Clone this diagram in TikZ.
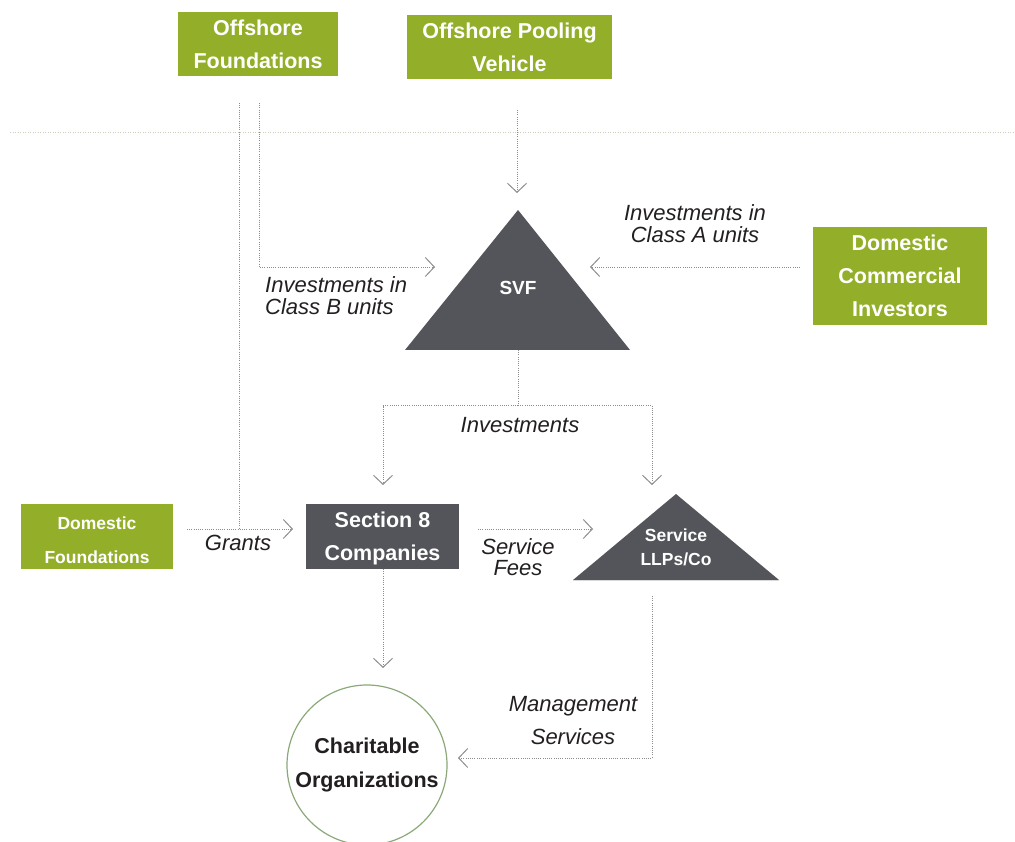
\documentclass[tikz,border=0pt]{standalone}
\usepackage{fontspec}
\setmainfont{Liberation Sans}
\usetikzlibrary{arrows.meta}
\definecolor{olive}{RGB}{147,175,42}
\definecolor{slate}{RGB}{84,85,90}
\definecolor{ringc}{RGB}{139,168,120}
\definecolor{dotc}{RGB}{140,140,140}
\definecolor{sepc}{RGB}{200,208,192}
\definecolor{txt}{RGB}{35,31,32}
\tikzset{
  gbox/.style={rectangle, fill=olive, text=white, align=center, inner sep=0pt,
    font=\fontsize{21.5}{33}\selectfont\bfseries},
  dbox/.style={rectangle, fill=slate, text=white, align=center, inner sep=0pt,
    font=\fontsize{21.5}{33}\selectfont\bfseries},
  tri/.style={fill=slate},
  lbl/.style={text=txt, inner sep=0pt, font=\fontsize{22}{22}\selectfont\itshape},
  link/.style={draw=dotc, line width=0.9pt, dash pattern=on 0.9pt off 1.3pt},
  flow/.style={link, -{Straight Barb[length=9pt,width=19pt,line width=1pt]}},
}
\begin{document}
\begin{tikzpicture}[x=1pt,y=-1pt]
\useasboundingbox (0,0) rectangle (1015,842);
\clip (0,0) rectangle (1015,842);

% separator
\coordinate (sepL) at (10,133);
\coordinate (sepR) at (1015,133);
\draw[draw=sepc, line width=1pt, dash pattern=on 1pt off 1.5pt] (sepL) -- (sepR);

% boxes
\node[gbox, minimum width=160pt, minimum height=64pt] (ofound) at (258,44) {Offshore\\Foundations};
\node[gbox, minimum width=205pt, minimum height=64pt] (opv) at (509.5,47) {Offshore Pooling\\Vehicle};
\node[gbox, minimum width=174pt, minimum height=98pt] (dci) at (900,276) {Domestic\\Commercial\\Investors};
\node[gbox, minimum width=152pt, minimum height=65pt, font=\fontsize{17.5}{34}\selectfont\bfseries] (dfound) at (97,536.5) {\rule{0pt}{20.8pt}Domestic\\Foundations};
\node[dbox, minimum width=153pt, minimum height=65pt] (sec8) at (382.5,536.5) {\rule{0pt}{19.7pt}Section 8\\Companies};

% SVF triangle
\fill[tri] (518,210) -- (630,350) -- (405,350) -- cycle;
\node[text=white, font=\fontsize{19}{22}\selectfont\bfseries] (svf) at (518,288) {SVF};

% Service LLPs triangle
\fill[tri] (676,494) -- (779,580) -- (573,580) -- cycle;
\draw[draw=black!15, line width=0.8pt] (573,580.5) -- (779,580.5);
\node[text=white, align=center, font=\fontsize{17.5}{24}\selectfont\bfseries] (llp) at (676,547) {Service\\LLPs/Co};

% Charitable organizations
\node[circle, draw=ringc, line width=1.2pt, minimum size=160pt, inner sep=0pt, align=center,
  text=txt, font=\fontsize{21.5}{34}\selectfont\bfseries] (char) at (367,765) {Charitable\\Organizations};

% connector coordinates
\coordinate (ofA) at (239,103);
\coordinate (ofB) at (259,103);
\coordinate (gj) at (239,529);
\coordinate (svfL) at (435,267);
\coordinate (opvS) at (517,110);
\coordinate (svfT) at (517,193);
\coordinate (dciW) at (800,267);
\coordinate (svfR) at (590,267);
\coordinate (svfB) at (518,350);
\coordinate (split) at (518,405.5);
\coordinate (sec8N) at (383,485);
\coordinate (llpN) at (652,485);
\coordinate (dfE) at (187,529);
\coordinate (sec8W) at (293,529);
\coordinate (sec8E) at (478,529);
\coordinate (llpW) at (593,529);
\coordinate (sec8S) at (383,569);
\coordinate (charN) at (383,668);
\coordinate (llpS) at (652,596);
\coordinate (charE) at (458,758);

% connectors
\draw[link] (ofA) -- (gj);
\draw[flow] (ofB) |- (svfL);
\draw[flow] (opvS) -- (svfT);
\draw[flow] (dciW) -- (svfR);
\draw[link] (svfB) -- (split);
\draw[flow] (split) -| (sec8N);
\draw[flow] (split) -| (llpN);
\draw[flow] (dfE) -- (sec8W);
\draw[flow] (sec8E) -- (llpW);
\draw[flow] (sec8S) -- (charN);
\draw[flow] (llpS) |- (charE);

% labels
\node[lbl, align=left, anchor=west] (lB) at (265,296) {Investments in\\Class B units};
\node[lbl, align=center] (lA) at (695,224) {Investments in\\Class A units};
\node[lbl] (lInv) at (520,425) {Investments};
\node[lbl] (lG) at (238,543) {Grants};
\node[lbl, align=center, font=\fontsize{22}{21}\selectfont\itshape] (lSF) at (518,557.5) {Service\\Fees};
\node[lbl, align=center, font=\fontsize{22}{33}\selectfont\itshape] (lMS) at (573,720.5) {Management\\Services};
\end{tikzpicture}
\end{document}
